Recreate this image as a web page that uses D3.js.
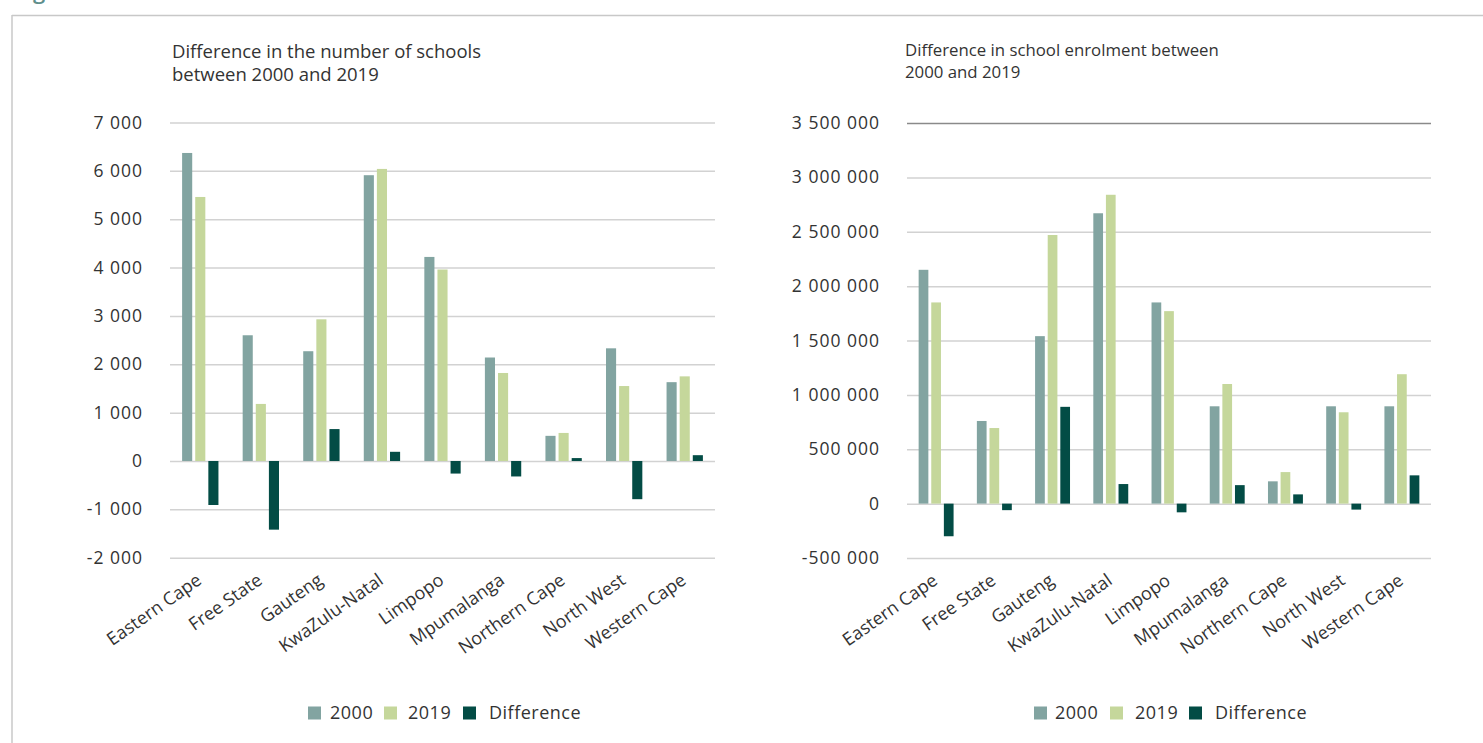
<!DOCTYPE html>
<html>
<head>
<meta charset="utf-8">
<script src="https://cdnjs.cloudflare.com/ajax/libs/d3/7.8.5/d3.min.js"></script>
<style>
  html, body { margin: 0; padding: 0; background: #fff; }
  svg { display: block; }
  text { font-family: "Open Sans", Lato, sans-serif; fill: #333; }
</style>
</head>
<body>
<svg id="chart" width="1483" height="743"></svg>
<script>
// ---------- data ----------
const provinces = ["Eastern Cape", "Free State", "Gauteng", "KwaZulu-Natal", "Limpopo",
                   "Mpumalanga", "Northern Cape", "North West", "Western Cape"];
const seriesNames = ["2000", "2019", "Difference"];

const schools2000 = [6370, 2600, 2270, 5910, 4220, 2140, 520, 2330, 1630];
const schools2019 = [5460, 1180, 2930, 6040, 3960, 1820, 580, 1550, 1750];
const schoolsDiff = [-910, -1420, 660, 190, -260, -320, 60, -790, 120];

const enrol2000 = [2150000, 760000, 1540000, 2670000, 1850000, 895000, 205000, 895000, 895000];
const enrol2019 = [1850000, 695000, 2470000, 2840000, 1770000, 1100000, 290000, 840000, 1190000];
const enrolDiff = [-300000, -60000, 890000, 180000, -80000, 170000, 85000, -55000, 260000];

const schoolTicks = [-2000, -1000, 0, 1000, 2000, 3000, 4000, 5000, 6000, 7000];
const enrolTicks = [-500000, 0, 500000, 1000000, 1500000, 2000000, 2500000, 3000000, 3500000];

const titleSchools = ["Difference in the number of schools", "between 2000 and 2019"];
const titleEnrol = ["Difference in school enrolment between", "2000 and 2019"];

const colors = { "2000": "#82a4a1", "2019": "#c5d79b", "Difference": "#034c45" };

// ---------- helpers ----------
const loc = d3.formatLocale({ decimal: ".", thousands: "\u00a0", grouping: [3], currency: ["", ""], minus: "-" });
const fmt = loc.format(",");

const svg = d3.select("#chart");

// frame
svg.append("line").attr("x1", 12).attr("x2", 1483).attr("y1", 15.5).attr("y2", 15.5)
   .attr("stroke", "#c8c8c8").attr("stroke-width", 1.5);
svg.append("line").attr("x1", 12).attr("x2", 12).attr("y1", 15).attr("y2", 743)
   .attr("stroke", "#c8c8c8").attr("stroke-width", 1.5);
// cut-off figure heading glyph at the very top (as in the source)
svg.append("text").attr("x", 33).attr("y", -1).attr("font-size", 22).attr("font-weight", 600)
   .style("fill", "#5f8f8c").text("g");

function drawChart(cfg) {
  const g = svg.append("g");
  const x0 = d3.scaleBand().domain(provinces).range([cfg.left, cfg.right]).padding(0);
  const bw = x0.bandwidth();
  const x1 = d3.scaleBand().domain(seriesNames).range([bw * 0.2, bw * 0.8]).paddingInner(0.23).paddingOuter(0);
  const y = d3.scaleLinear().domain(cfg.domain).range([cfg.bottom, cfg.top]);

  // title
  const t = g.append("text").attr("x", cfg.titleX).attr("y", cfg.titleY).attr("font-size", cfg.titleSize);
  cfg.title.forEach((line, i) => t.append("tspan").attr("x", cfg.titleX).attr("dy", i === 0 ? 0 : 22.5).text(line));

  // grid + y axis
  const axis = d3.axisLeft(y).tickValues(cfg.ticks).tickFormat(fmt)
      .tickSize(-(cfg.right - cfg.left)).tickPadding(27);
  const ag = g.append("g").attr("transform", `translate(${cfg.left},0)`).call(axis);
  ag.select(".domain").remove();
  ag.selectAll(".tick line").attr("stroke", "#d2d2d2").attr("stroke-width", 1.5);
  if (cfg.darkTop) {
    ag.selectAll(".tick").filter(d => d === cfg.domain[1]).select("line").attr("stroke", "#8a8a8a");
  }
  ag.selectAll(".tick text").attr("font-size", 17.5).attr("letter-spacing", 1).style("fill", "#333")
    .attr("font-family", '"Open Sans", Lato, sans-serif');

  // bars
  const rows = provinces.map((p, i) => ({ p, vals: [cfg.s0[i], cfg.s1[i], cfg.s2[i]] }));
  const grp = g.append("g").selectAll("g").data(rows).join("g")
      .attr("transform", d => `translate(${x0(d.p)},0)`);
  grp.selectAll("rect").data(d => d.vals.map((v, k) => ({ k: seriesNames[k], v }))).join("rect")
      .attr("x", d => x1(d.k))
      .attr("width", x1.bandwidth())
      .attr("y", d => y(Math.max(0, d.v)))
      .attr("height", d => Math.abs(y(d.v) - y(0)))
      .attr("fill", d => colors[d.k]);

  // category labels
  g.append("g").selectAll("text").data(provinces).join("text")
      .attr("transform", d => `translate(${x0(d) + bw / 2 - 1},${cfg.bottom + 20}) rotate(-35)`)
      .attr("text-anchor", "end").attr("dy", "0.35em").attr("font-size", 18)
      .text(d => d);

  // legend
  const lg = g.append("g").attr("transform", `translate(${cfg.legendX},713)`);
  seriesNames.forEach((s, i) => {
    lg.append("rect").attr("x", cfg.legendOffs[i]).attr("y", -6.5).attr("width", 13).attr("height", 13).attr("fill", colors[s]);
    lg.append("text").attr("x", cfg.legendText[i]).attr("y", 0).attr("dy", "0.35em")
      .attr("font-size", 18).attr("letter-spacing", 0.5).text(s);
  });
}

drawChart({
  left: 170, right: 715, top: 122.5, bottom: 557.7,
  domain: [-2000, 7000], ticks: schoolTicks, titleX: 172, titleY: 58, titleSize: 18.5, title: titleSchools,
  s0: schools2000, s1: schools2019, s2: schoolsDiff,
  legendX: 308, legendOffs: [0, 76, 155], legendText: [22, 100, 181], darkTop: false
});

drawChart({
  left: 907, right: 1431, top: 123, bottom: 558,
  domain: [-500000, 3500000], ticks: enrolTicks, titleX: 905, titleY: 55.5, titleSize: 16.8, title: titleEnrol,
  s0: enrol2000, s1: enrol2019, s2: enrolDiff,
  legendX: 1034, legendOffs: [0, 76, 155], legendText: [21, 101, 181], darkTop: true
});
</script>
</body>
</html>
